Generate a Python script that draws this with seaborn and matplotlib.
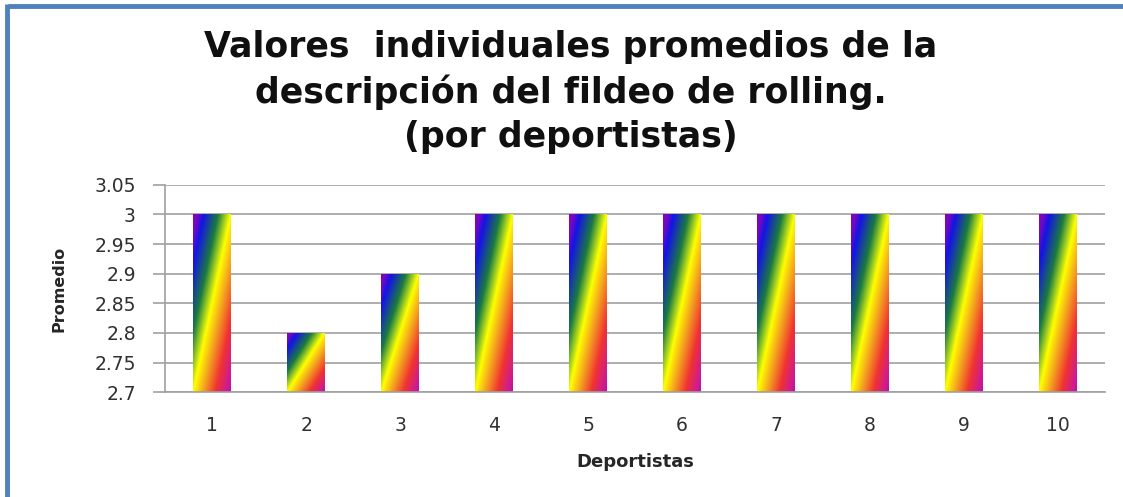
import numpy as np
import pandas as pd
import matplotlib
matplotlib.use("Agg")
import matplotlib.pyplot as plt
import seaborn as sns
from matplotlib.colors import LinearSegmentedColormap
from matplotlib.lines import Line2D

deportistas = ["1", "2", "3", "4", "5", "6", "7", "8", "9", "10"]
promedios = [3.0, 2.8, 2.9, 3.0, 3.0, 3.0, 3.0, 3.0, 3.0, 3.0]
yticks = [2.7, 2.75, 2.8, 2.85, 2.9, 2.95, 3.0, 3.05]
ytick_labels = ["2.7", "2.75", "2.8", "2.85", "2.9", "2.95", "3", "3.05"]
title = "Valores  individuales promedios de la\ndescripción del fildeo de rolling.\n(por deportistas)"

sns.set_theme(style="white")
plt.rcParams['font.family'] = ['DejaVu Sans']

fig = plt.figure(figsize=(11.23, 4.97), dpi=100)
ax = fig.add_axes([0.147, 0.211, 0.837, 0.417])

df = pd.DataFrame({"Deportistas": deportistas, "Promedio": promedios})
sns.barplot(data=df, x="Deportistas", y="Promedio", ax=ax, width=0.40,
            color="white", edgecolor="none", order=deportistas)

ymin, ymax = 2.7, 3.05
ax.set_ylim(ymin, ymax)
ax.set_yticks(yticks)
ax.set_yticklabels(ytick_labels)
ax.set_xlim(-0.5, len(deportistas) - 0.5)

cmap = LinearSegmentedColormap.from_list(
    "rainbow_bar",
    [(0.0, "#8a00b4"), (0.05, "#7a08c0"), (0.14, "#1414e6"), (0.33, "#1a7a40"),
     (0.43, "#9ccc20"), (0.5, "#ffff00"), (0.64, "#f4a020"),
     (0.8, "#f03232"), (0.95, "#cc1a96"), (1.0, "#c010a0")])

for p in ax.patches:
    x0 = p.get_x()
    w = p.get_width()
    h = p.get_height()
    p.set_facecolor("none")
    nx, ny = 60, 200
    xs = np.linspace(0, 1, nx)
    ys = np.linspace(1, 0, ny)  # top row first
    X, Y = np.meshgrid(xs, ys)
    T = 0.5 * X + 0.5 * (1 - Y)
    im = ax.imshow(T, cmap=cmap, vmin=0, vmax=1, aspect="auto",
                   extent=[x0, x0 + w, ymin, h], origin="upper",
                   interpolation="bilinear", zorder=2)
    im.set_clip_path(p)

ax.set_xlim(-0.5, len(deportistas) - 0.5)
ax.set_ylim(ymin, ymax)

ax.grid(axis="y", color="#a0a0a0", linewidth=1.2)
ax.set_axisbelow(True)
for s in ["top", "right"]:
    ax.spines[s].set_visible(False)
for s in ["left", "bottom"]:
    ax.spines[s].set_color("#a0a0a0")
    ax.spines[s].set_linewidth(1.2)
ax.tick_params(axis="y", which="major", left=True, length=9, width=1.2,
               color="#a0a0a0", labelsize=13.5, labelcolor="#303030", pad=12)
ax.tick_params(axis="x", bottom=False, labelsize=13.5, labelcolor="#303030", pad=11)

ax.set_ylabel("Promedio", fontsize=11.5, fontweight="bold", labelpad=20)
ax.set_xlabel("Deportistas", fontsize=13, fontweight="bold", labelpad=13)

fig.text(0.508, 0.94, title, ha="center", va="top", fontsize=25,
         fontweight="bold", linespacing=1.38, color="#101010")

# blue frame (top and left edges)
fig.add_artist(Line2D([0.0075, 1.0], [0.988, 0.988], transform=fig.transFigure,
                      color="#4f81bd", linewidth=3.5, solid_capstyle="butt"))
fig.add_artist(Line2D([0.0063, 0.0063], [0.0, 0.991], transform=fig.transFigure,
                      color="#4f81bd", linewidth=3.5, solid_capstyle="butt"))

fig.savefig("out.png", dpi=100)
